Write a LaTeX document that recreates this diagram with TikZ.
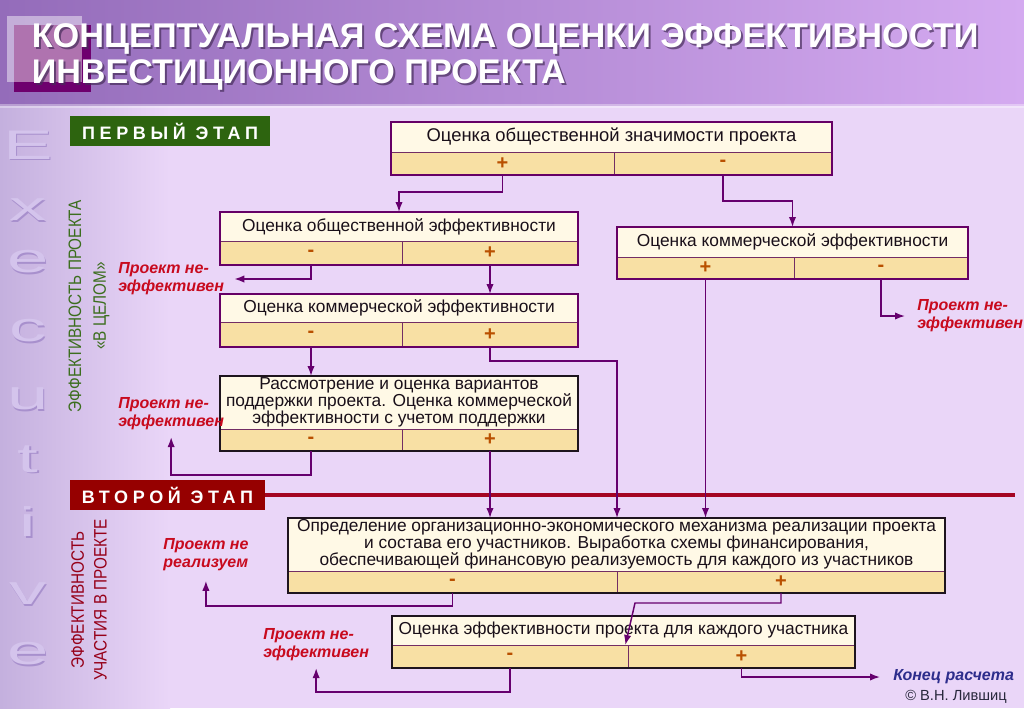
\documentclass[tikz,border=0pt]{standalone}
\usepackage{fontspec}
\setmainfont{Liberation Sans}
\usepackage{graphicx}
\usetikzlibrary{arrows.meta,calc}
\definecolor{hdrL}{RGB}{148,108,186}
\definecolor{hdrR}{RGB}{212,170,240}
\definecolor{bodyc}{RGB}{234,214,248}
\definecolor{bodyL}{RGB}{196,176,222}
\definecolor{frP}{RGB}{102,0,102}
\definecolor{frD}{RGB}{30,20,30}
\definecolor{inner}{RGB}{115,45,100}
\definecolor{arrc}{RGB}{102,0,110}
\definecolor{signc}{RGB}{185,80,0}
\definecolor{topfill}{RGB}{255,249,230}
\definecolor{cellfill}{RGB}{248,224,164}
\definecolor{redt}{RGB}{200,10,30}
\definecolor{bluet}{RGB}{45,45,140}
\definecolor{greenbox}{RGB}{45,100,15}
\definecolor{greent}{RGB}{60,110,30}
\definecolor{redbox}{RGB}{150,0,0}
\definecolor{redline}{RGB}{165,5,35}
\definecolor{redvt}{RGB}{150,0,25}
\definecolor{letterc}{RGB}{212,196,236}
\definecolor{lettere}{RGB}{168,144,205}
\definecolor{shadowc}{RGB}{70,45,90}
\definecolor{textc}{RGB}{25,15,25}
\definecolor{sqd}{RGB}{110,0,110}
\definecolor{copyc}{RGB}{40,40,60}

\newcommand\boxtextfont{\fontsize{13pt}{12.9pt}\selectfont}
\newcommand\titlefont{\fontsize{25pt}{25pt}\selectfont\bfseries}
\newcommand\evbox[9]{%
  \node[toprow, anchor=north west, minimum width={(#4-#2)*0.75pt}, minimum height={(#5-#3)*0.75pt}] (#1) at (#2,#3) {\btext};
  \node[cellrow, anchor=north west, minimum width={(#7-#2)*0.75pt}, minimum height={(#6-#5)*0.75pt}] (#1L) at (#2,#5) {#8};
  \node[cellrow, anchor=north west, minimum width={(#4-#7)*0.75pt}, minimum height={(#6-#5)*0.75pt}] (#1R) at (#7,#5) {#9};
  \draw[line width=1.8pt, draw=\bframe] (#2,#3) rectangle (#4,#6);
}

\begin{document}
\begin{tikzpicture}[x=0.75pt,y=-0.75pt,
  toprow/.style={draw=inner, line width=0.7pt, fill=topfill, inner sep=0pt, outer sep=0pt,
     align=center, font=\boxtextfont, text=textc},
  cellrow/.style={draw=inner, line width=0.7pt, fill=cellfill, inner sep=0pt, outer sep=0pt,
     font=\fontsize{15pt}{15pt}\selectfont\bfseries, text=signc},
  arr/.style={draw=arrc, line width=1.1pt, -{Latex[length=7.5pt,width=5.5pt]}},
  note/.style={inner sep=0pt, align=left, text=redt, font=\fontsize{12pt}{13.5pt}\selectfont\bfseries\itshape},
  stagebox/.style={inner sep=0pt, outer sep=0pt, anchor=north west, text=white,
     font=\fontsize{13.5pt}{13.5pt}\selectfont\bfseries\addfontfeature{LetterSpace=26}},
  letter/.style={inner sep=0pt, font=\fontsize{31pt}{31pt}\selectfont},
]
\useasboundingbox (0,0) rectangle (1024,708);
% backgrounds
\fill[bodyc] (0,105) rectangle (1024,708);
\fill[left color=bodyL, right color=bodyc] (0,105) rectangle (170,708);
\fill[left color=hdrL, right color=hdrR] (0,0) rectangle (1024,105);
\fill[color=white, opacity=0.35] (0,104) rectangle (1024,108);
% header squares
\fill[sqd] (14,25) rectangle (91,92);
\fill[color=white, opacity=0.45] (7,16) rectangle (82,82);
% title
\node[anchor=base west, inner sep=0pt, text=shadowc, opacity=0.7] (t1s) at (33.5,49) {\resizebox{710pt}{!}{\titlefont КОНЦЕПТУАЛЬНАЯ СХЕМА ОЦЕНКИ ЭФФЕКТИВНОСТИ}};
\node[anchor=base west, inner sep=0pt, text=white] (t1) at (31.5,47) {\resizebox{710pt}{!}{\titlefont КОНЦЕПТУАЛЬНАЯ СХЕМА ОЦЕНКИ ЭФФЕКТИВНОСТИ}};
\node[anchor=base west, inner sep=0pt, text=shadowc, opacity=0.7] (t2s) at (33.5,85) {\resizebox{400.5pt}{!}{\titlefont ИНВЕСТИЦИОННОГО ПРОЕКТА}};
\node[anchor=base west, inner sep=0pt, text=white] (t2) at (31.5,83) {\resizebox{400.5pt}{!}{\titlefont ИНВЕСТИЦИОННОГО ПРОЕКТА}};
% Executive letters
\foreach \ch/\yy [count=\i] in {E/145,x/210,e/262,c/331,u/399,t/459,i/522,v/594,e/654}{
  \node[letter, text=lettere] (lsa\i) at (29.6,\yy+1.6) {\scalebox{1.8}[1]{\ch}};
  \node[letter, text=letterc] (ls\i) at (28,\yy) {\scalebox{1.8}[1]{\ch}};
}
% vertical labels
\node[rotate=90, align=center, inner sep=0pt, text=greent, font=\fontsize{13.5pt}{18.5pt}\selectfont] (vg) at (89,306)
  {\scalebox{0.85}[1]{ЭФФЕКТИВНОСТЬ ПРОЕКТА}\\\scalebox{0.85}[1]{«В ЦЕЛОМ»}};
\node[rotate=90, align=center, inner sep=0pt, text=redvt, font=\fontsize{13.5pt}{17pt}\selectfont] (vr) at (89,600)
  {\scalebox{0.85}[1]{ЭФФЕКТИВНОСТЬ}\\\scalebox{0.85}[1]{УЧАСТИЯ В ПРОЕКТЕ}};
% stages
\node[stagebox, fill=greenbox, minimum width=150pt, minimum height=22.5pt] (S1) at (70,116) {ПЕРВЫЙ ЭТАП};
\node[stagebox, fill=redbox, minimum width=146.25pt, minimum height=22.5pt] (S2) at (70,480) {ВТОРОЙ ЭТАП};
\coordinate (L2end) at (1015,495);
\draw[draw=redline, line width=2.4pt] (S2.east) -- (S2.east -| L2end);
% boxes
\def\bframe{frP}
\def\btext{\fontsize{13.8pt}{13pt}\selectfont Оценка общественной значимости проекта}
\evbox{A}{391}{122}{832}{152}{175}{614}{+}{-}
\def\btext{Оценка общественной эффективности}
\evbox{B}{220}{212}{578}{241}{265}{402}{-}{+}
\def\btext{Оценка коммерческой эффективности}
\evbox{C}{617}{227}{968}{257}{279}{794}{+}{-}
\def\btext{Оценка коммерческой эффективности}
\evbox{D}{220}{294}{578}{322}{347}{402}{-}{+}
\def\bframe{frD}
\def\btext{Рассмотрение и оценка вариантов\\поддержки проекта. Оценка коммерческой\\эффективности с учетом поддержки}
\evbox{F}{220}{376}{578}{429}{451}{402}{-}{+}
\def\btext{Определение организационно-экономического механизма реализации проекта\\и состава его участников. Выработка схемы финансирования,\\обеспечивающей финансовую реализуемость для каждого из участников}
\evbox{E}{288}{518}{945}{571}{593}{617}{-}{+}
\def\btext{Оценка эффективности проекта для каждого участника}
\evbox{G}{392}{616}{855}{645}{668}{628}{-}{+}
% notes
\node[note, anchor=west] (NE1) at (118,279) {Проект не-\\эффективен};
\node[note, anchor=west] (NE2) at (917,316) {Проект не-\\эффективен};
\node[note, anchor=west] (NE3) at (118,414) {Проект не-\\эффективен};
\node[note, anchor=west] (NR) at (163,555) {Проект не\\реализуем};
\node[note, anchor=west] (NE4) at (263,645) {Проект не-\\эффективен};
\node[note, anchor=west, text=bluet] (END) at (893,677) {Конец расчета};
\node[inner sep=0pt, anchor=west, text=copyc, font=\fontsize{11pt}{11pt}\selectfont] (CP) at (905,697) {© В.Н. Лившиц};
% connectors
\coordinate (g1) at (635,603);
\draw[arr] (AL.south) -- ++(0,17) -| (B.north);
\draw[arr] (AR.south) -- ++(0,26) -| (C.north);
\draw[arr] (BL.south) |- ([xshift=7.5pt]NE1.east);
\draw[arr] (BR.south) -- (BR.south |- D.north);
\draw[arr] (CR.south) |- ([xshift=-9pt]NE2.west);
\draw[arr] (CL.south) -- (CL.south |- E.north);
\draw[arr] (DL.south) -- (DL.south |- F.north);
\draw[arr] (DR.south) -- ++(0,14) -| (E.north -| EL.east);
\draw[arr] (FL.south) -- ++(0,24) -| ([yshift=-5pt]NE3.south);
\draw[arr] (FR.south) -- (FR.south |- E.north);
\draw[arr] (EL.south) -- ++(0,13) -| ([yshift=-7pt]NR.south);
\draw[arr] (ER.south) |- (g1) -- ([xshift=-2pt]GL.north east);
\draw[arr] (GL.south) -- ++(0,24) -| ([yshift=-5pt]NE4.south);
\draw[arr] (GR.south) |- ([xshift=-9.75pt]END.west);
\end{tikzpicture}
\end{document}
